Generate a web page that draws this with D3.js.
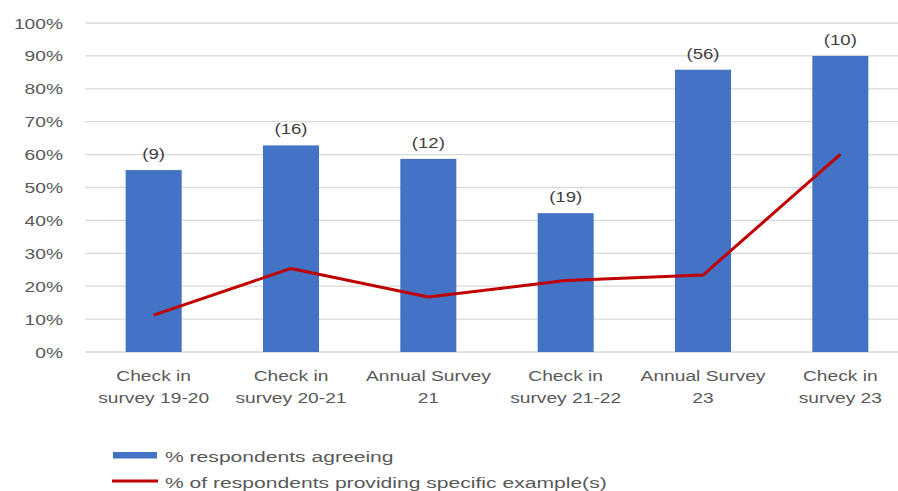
<!DOCTYPE html>
<html>
<head>
<meta charset="utf-8">
<script src="https://cdn.jsdelivr.net/npm/d3@7"></script>
<style>
  body { margin: 0; background: #fff; }
  text { font-family: "Liberation Sans", Arial, sans-serif; fill: #595959; }
</style>
</head>
<body>
<div id="chart"></div>
<script>
const categories = [
  ["Check in", "survey 19-20"],
  ["Check in", "survey 20-21"],
  ["Annual Survey", "21"],
  ["Check in", "survey 21-22"],
  ["Annual Survey", "23"],
  ["Check in", "survey 23"]
];
const agreeing = [0.553, 0.628, 0.587, 0.422, 0.858, 0.90];
const examples = [0.112, 0.254, 0.167, 0.217, 0.234, 0.601];
const counts = ["(9)", "(16)", "(12)", "(19)", "(56)", "(10)"];
const yTicks = [0, 0.1, 0.2, 0.3, 0.4, 0.5, 0.6, 0.7, 0.8, 0.9, 1.0];
const legendLabels = ["% respondents agreeing", "% of respondents providing specific example(s)"];

const W = 898, H = 491;

const svg = d3.select("#chart").append("svg")
  .attr("width", W)
  .attr("height", H);

const x = d3.scaleBand()
  .domain(d3.range(categories.length))
  .range([85, 909])
  .paddingInner(0.592)
  .paddingOuter(0.296);

const y = d3.scaleLinear()
  .domain([0, 1])
  .range([352, 23]);

// the text in the picture is stretched sideways, so scale it on x
function stretched(g, px, py, str, anchor, size, fill, sx) {
  g.append("text")
    .attr("transform", `translate(${px},${py}) scale(${sx || 1.24},1)`)
    .attr("text-anchor", anchor)
    .style("font-size", size + "px")
    .style("fill", fill || "#595959")
    .text(str);
}

// gridlines
svg.append("g").selectAll("line")
  .data(yTicks)
  .join("line")
  .attr("x1", 85)
  .attr("x2", W)
  .attr("y1", d => y(d))
  .attr("y2", d => y(d))
  .attr("stroke", "#d9d9d9")
  .attr("stroke-width", 1.3);

// y tick labels
const yLab = svg.append("g");
yTicks.forEach(t => stretched(yLab, 63, y(t) + 5.5, d3.format(".0%")(t), "end", 15.5));

// bars
svg.append("g").selectAll("rect")
  .data(agreeing)
  .join("rect")
  .attr("x", (d, i) => x(i))
  .attr("y", d => y(d))
  .attr("width", x.bandwidth())
  .attr("height", d => y(0) - y(d))
  .attr("fill", "#4472c4");

// count labels
const cLab = svg.append("g");
agreeing.forEach((v, i) => stretched(cLab, x(i) + x.bandwidth() / 2, y(v) - 11, counts[i], "middle", 15, "#404040"));

// line
const line = d3.line()
  .x((d, i) => x(i) + x.bandwidth() / 2)
  .y(d => y(d));

svg.append("path")
  .datum(examples)
  .attr("d", line)
  .attr("fill", "none")
  .attr("stroke", "#c00000")
  .attr("stroke-width", 3)
  .attr("stroke-linejoin", "round");

// category labels
const xLab = svg.append("g");
categories.forEach((c, i) => {
  const cx = x(i) + x.bandwidth() / 2;
  stretched(xLab, cx, 381, c[0], "middle", 15.5);
  stretched(xLab, cx, 403, c[1], "middle", 15.5);
});

// legend
const leg = svg.append("g");
leg.append("rect")
  .attr("x", 113).attr("y", 452)
  .attr("width", 44).attr("height", 6.5)
  .attr("fill", "#4472c4");
leg.append("line")
  .attr("x1", 112).attr("x2", 158)
  .attr("y1", 481).attr("y2", 481)
  .attr("stroke", "#c00000")
  .attr("stroke-width", 3);
stretched(leg, 165, 462, legendLabels[0], "start", 15.5, "#595959", 1.36);
stretched(leg, 165, 488, legendLabels[1], "start", 15.5, "#595959", 1.36);
</script>
</body>
</html>
